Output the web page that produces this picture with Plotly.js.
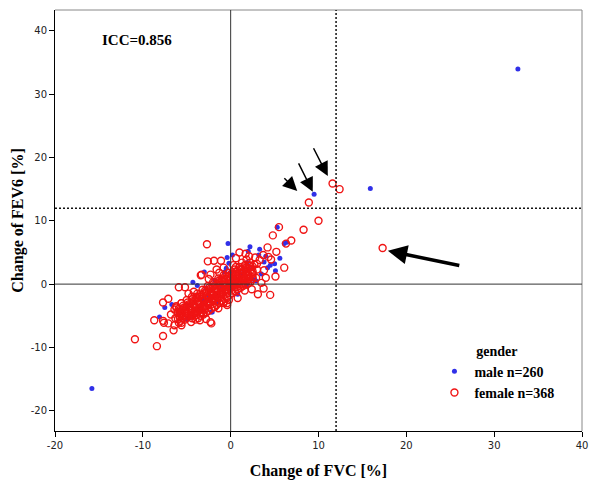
<!DOCTYPE html>
<html><head><meta charset="utf-8">
<script src="https://cdn.plot.ly/plotly-3.0.1.min.js"></script>
<style>html,body{margin:0;padding:0;background:#fff}</style>
</head><body><div id="chart" style="width:600px;height:492px"></div>
<script>
// male (blue, filled)
const maleX = [32.7,-15.8,15.9,9.5,5.3,6.1,-0.3,2.2,3.3,5.0,5.1,2.9,2.7,-0.2,-0.4,1.9,-0.7,-3.0,-4.3,-3.8,0.8,-2.1,-2.2,-6.7,-5.6,-4.7,-4.7,-8.1,-7.5,-5.0,3.2,4.0,1.5,2.5,0.5,-1.0,-2.5,-3.2,-1.5,0.3,1.2,3.8,4.5,-0.5,0.2,2.0,-3.5,-6.0,1.8,3.5,4.2,-2.8,0.0,-1.8,5.6,6.4];
const maleY = [34.0,-16.5,15.1,14.2,9.0,6.4,6.4,5.9,5.5,3.2,2.1,0.5,0.7,3.3,4.2,3.4,1.9,1.9,0.3,-0.2,-1.6,-4.4,-4.4,-3.2,-4.2,-3.3,-5.3,-5.2,-3.7,-5.5,4.6,4.4,2.0,2.6,0.8,-0.5,-1.8,-2.5,-2.8,-0.6,1.5,3.5,3.0,2.5,4.6,5.2,-4.0,-4.8,-0.2,1.6,2.6,-0.6,1.8,0.6,4.1,6.6];
// female (red, open) - scattered points
const femaleOuterX = [17.3,11.6,12.4,8.9,10.0,8.3,6.9,6.3,5.5,4.8,6.1,5.1,4.5,3.1,2.4,3.75,-2.7,-2.6,-1.9,1.0,1.7,4.3,4.2,5.2,3.7,4.6,3.8,0.6,1.3,-1.1,-1.6,-3.3,-2.3,-3.4,-5.9,-5.2,-7.1,-7.7,-6.2,-5.6,-5.2,-8.7,-7.7,-7.1,-6.5,-5.9,-7.7,-10.9,-8.4,-5.8,-0.8,-0.4,-2.3,-3.5,-3.3,-1.4,-0.8,-1.8,-2.2,-3.1,-0.4,-6.4,-6.3,-5.7,-5.6,-5.8,-6.4,-7.6,-5.6,-4.3,3.3,2.8,0.3,-0.8,1.8,2.9,4.0,3.5,1.6,0.8,-0.2,-4.8,-4.2,-6.8,-4.5,-2.8,0.6,2.1,-1.3,-2.5];
const femaleOuterY = [5.7,15.9,15.0,12.9,10.0,8.6,6.9,6.4,9.0,7.7,2.6,1.2,-1.7,-1.6,-0.8,-0.7,6.3,3.6,3.7,5.0,4.8,4.3,5.8,5.1,4.6,3.9,2.2,2.7,3.4,3.7,2.3,1.5,1.5,1.4,-0.5,-0.5,-2.3,-2.9,-3.7,-3.0,-4.6,-5.7,-5.8,-6.2,-7.3,-6.1,-8.2,-8.7,-9.8,-5.2,-2.8,-3.3,-6.0,-5.7,-4.5,-3.8,-3.0,-3.6,-6.2,-4.6,-3.0,-4.0,-5.4,-5.8,-6.5,-4.4,-6.5,-6.1,-6.1,-4.9,3.8,4.2,3.0,2.6,3.9,1.0,1.0,0.2,-1.0,-2.2,-2.5,-1.5,-1.2,-4.8,-6.0,-5.5,4.1,4.4,1.8,0.8];
// female - dense core
const femaleCoreX = [-6,-5.5,-5,-4.5,-4,-3.5,-3,-2.5,-2,-1.5,-1,-0.5,0,0.5,1,1.5,2,2.5,3,
 -6,-5.5,-5,-4.5,-4,-3.5,-3,-2.5,-2,-1.5,-1,-0.5,0,0.5,1,1.5,2,2.5,3,
 -5.2,-4.6,-4,-3.5,-3,-2.5,-2,-1.5,-1,-0.5,0,0.5,1,1.5,2,2.5,
 -4,-3.4,-2.8,-2.2,-1.6,-1,-0.4,0.2,0.8,1.4,2,
 -6.2,-5.6,-5,-4.4,-3.8,-3.2,-2.6,-2,-1.4,-0.8,-0.2,0.4,1,1.6,2.2,
 -5.75,-5.25,-4.75,-4.25,-3.75,-3.25,-2.75,-2.25,-1.75,-1.25,-0.75,-0.25,0.25,0.75,1.25,1.75,2.25,
 -4.8,-4.3,-3.75,-3.25,-2.75,-2.25,-1.75,-1.25,-0.75,-0.25,0.25,0.75,1.25,1.75,
 -5.5,-5,-4.5,-4,-3.5,-3,-2.5,-2,-1.5,-1,-0.5,0,0.5,1,1.5,2,2.5,
 -5.8,-5.3,-4.8,-4.3,-3.8,-3.3,-2.8,-2.3,-1.8,-1.3,-0.8,-0.3,0.2,0.7,1.2,1.7,2.2,2.7,
 -3.7,-3.1,-2.5,-1.9,-1.3,-0.7,-0.1,0.5,1.1,1.7,2.3,
 -2.9,-2.3,-1.7,-1.1,-0.5,0.1,0.7,1.3,1.9,2.5,
 -4.4,-3.9,-3.4,-2.9,
 -5.6,-5.1,-4.6,-4.1,-3.6,-3.1,-2.6,-2.1,-1.6,-1.1,-0.6,-0.1,0.4,0.9,1.4,1.9,2.4,
 -5.0,-4.5,-4.0,-3.5,-3.0,-2.5,-2.0,-1.5,-1.0,-0.5,0.0,0.5,1.0,1.5,2.0,
 -5.9,-5.4,-4.9,-4.4,-3.9,-3.4,-2.9,-2.4,-1.9,-1.4,-0.9,-0.4,0.1,0.6,1.1,1.6,2.1];
const femaleCoreY = [-4.5,-4,-3.5,-3,-2.5,-2,-1.5,-1,-0.5,0,0.5,0.8,1,1.4,1.8,2.2,2.5,2.8,3.2,
 -5.5,-5,-4.6,-4,-3.6,-3.1,-2.6,-2.1,-1.6,-1.1,-0.6,-0.2,0.2,0.5,0.9,1.3,1.6,2,2.3,
 -5.6,-5.1,-4.6,-4.1,-3.6,-3.1,-2.6,-2.1,-1.6,-1.2,-0.7,-0.4,0,0.4,0.8,1.1,
 -5.6,-5,-4.5,-3.9,-3.3,-2.6,-2,-1.4,-0.8,-0.3,0.1,
 -3.5,-3,-2.5,-2,-1.5,-0.9,-0.3,0.3,0.9,1.4,1.8,2.3,2.7,3,3.4,
 -4.8,-4.3,-3.8,-3.3,-2.8,-2.3,-1.8,-1.3,-0.8,-0.3,0.1,0.5,0.8,1.2,1.6,1.9,2.2,
 -4.9,-4.4,-3.9,-3.4,-2.9,-2.4,-1.9,-1.4,-0.9,-0.5,-0.1,0.3,0.7,1.0,
 -5.3,-5,-4.6,-4.2,-3.7,-3.2,-2.7,-2.2,-1.7,-1.2,-0.8,-0.3,0.1,0.5,0.9,1.3,1.6,
 -4.1,-3.7,-3.2,-2.7,-2.2,-1.7,-1.2,-0.7,-0.2,0.3,0.7,1.1,1.5,1.9,2.3,2.6,2.9,3.1,
 -5.4,-4.8,-4.2,-3.6,-3.0,-2.3,-1.7,-1.1,-0.6,-0.1,0.4,
 -3.8,-3.3,-2.7,-2.1,-1.5,-1.0,-0.5,0.0,0.5,0.8,
 -5.4,-4.9,-4.4,-4.0,
 -4.6,-4.2,-3.9,-3.5,-3.0,-2.6,-2.2,-1.8,-1.3,-0.9,-0.4,0.0,0.4,0.8,1.1,1.5,1.8,
 -5.3,-4.9,-4.4,-3.9,-3.4,-2.9,-2.4,-1.9,-1.4,-1.0,-0.5,-0.1,0.3,0.7,1.0,
 -3.9,-3.4,-2.9,-2.4,-2.0,-1.5,-1.0,-0.5,0.0,0.5,0.9,1.3,1.7,2.0,2.4,2.8,3.0];
const femaleX = femaleOuterX.concat(femaleCoreX);
const femaleY = femaleOuterY.concat(femaleCoreY);
const xTicks = [-20,-10,0,10,20,30,40];
const yTicks = [-20,-10,0,10,20,30,40];
const cutoff = 12;

const serifBold = {family:'Liberation Serif, Times New Roman, serif', size:15, weight:'bold', color:'#000'};
const legendFont = {family:'Liberation Serif, Times New Roman, serif', size:14, weight:'bold', color:'#000'};
const tickFont = {family:'DejaVu Sans, sans-serif', size:10, color:'#222'};

const traces = [
 {x:maleX, y:maleY, type:'scatter', mode:'markers', name:'male n=260',
  marker:{symbol:'circle', size:5, color:'#3030e8'}},
 {x:femaleX, y:femaleY, type:'scatter', mode:'markers', name:'female n=368',
  marker:{symbol:'circle-open', size:7, color:'#f01414', line:{width:1.4}}}
];

const layout = {
 width:600, height:492,
 margin:{l:55, r:18, t:10, b:61},
 paper_bgcolor:'#fff', plot_bgcolor:'#fff',
 showlegend:true,
 legend:{x:0.72, y:0.222, xanchor:'left', yanchor:'top', bgcolor:'rgba(0,0,0,0)',
   font:legendFont, title:{text:'gender', side:'top center', font:legendFont},
   itemwidth:30, tracegroupgap:0},
 xaxis:{range:[-20,40], tickvals:xTicks, ticktext:xTicks.map(String), showgrid:false, zeroline:false,
   showline:true, linecolor:'#000', linewidth:1, ticks:'outside', ticklen:5, tickcolor:'#000',
   tickfont:tickFont, title:{text:'Change of FVC [%]', font:{...serifBold, size:16}, standoff:14}},
 yaxis:{range:[-23.2,43.3], tickvals:yTicks, ticktext:yTicks.map(String), showgrid:false, zeroline:false,
   showline:true, linecolor:'#000', linewidth:1, ticks:'outside', ticklen:5, tickcolor:'#000',
   tickfont:tickFont, title:{text:'Change of FEV6 [%]', font:{...serifBold, size:16}, standoff:3}},
 shapes:[
  {type:'line', xref:'paper', yref:'paper', x0:0, x1:1, y0:1, y1:1, line:{color:'#888', width:1}},
  {type:'line', xref:'paper', yref:'paper', x0:1, x1:1, y0:0, y1:1, line:{color:'#888', width:1}},
  {type:'line', xref:'x', yref:'paper', x0:0, x1:0, y0:0, y1:1, line:{color:'#333', width:1}},
  {type:'line', xref:'paper', yref:'y', x0:0, x1:1, y0:0, y1:0, line:{color:'#333', width:1}},
  {type:'line', xref:'x', yref:'paper', x0:cutoff, x1:cutoff, y0:0, y1:1, line:{color:'#111', width:1.5, dash:'2px,2px'}},
  {type:'line', xref:'paper', yref:'y', x0:0, x1:1, y0:cutoff, y1:cutoff, line:{color:'#111', width:1.5, dash:'2px,2px'}}
 ],
 annotations:[
  {text:'ICC=0.856', xref:'x', yref:'y', x:-14.9, y:38.5, xanchor:'left', yanchor:'middle', showarrow:false, font:serifBold},
  {text:'', x:17.9, y:5.26, ax:26.2, ay:2.9, axref:'x', ayref:'y', xref:'x', yref:'y', showarrow:true,
   arrowhead:2, arrowsize:1.1, arrowwidth:3.5, arrowcolor:'#000', standoff:0},
  {text:'', x:7.58, y:14.7, ax:5.94, ay:16.95, axref:'x', ayref:'y', xref:'x', yref:'y', showarrow:true,
   arrowhead:2, arrowsize:1.9, arrowwidth:1.5, arrowcolor:'#000', standoff:0},
  {text:'', x:9.35, y:14.58, ax:7.65, ay:19.3, axref:'x', ayref:'y', xref:'x', yref:'y', showarrow:true,
   arrowhead:2, arrowsize:1.9, arrowwidth:1.5, arrowcolor:'#000', standoff:0},
  {text:'', x:11.06, y:17.06, ax:9.35, ay:21.7, axref:'x', ayref:'y', xref:'x', yref:'y', showarrow:true,
   arrowhead:2, arrowsize:1.9, arrowwidth:1.5, arrowcolor:'#000', standoff:0}
 ]
};
Plotly.newPlot('chart', traces, layout, {displayModeBar:false, staticPlot:true});
</script></body></html>
